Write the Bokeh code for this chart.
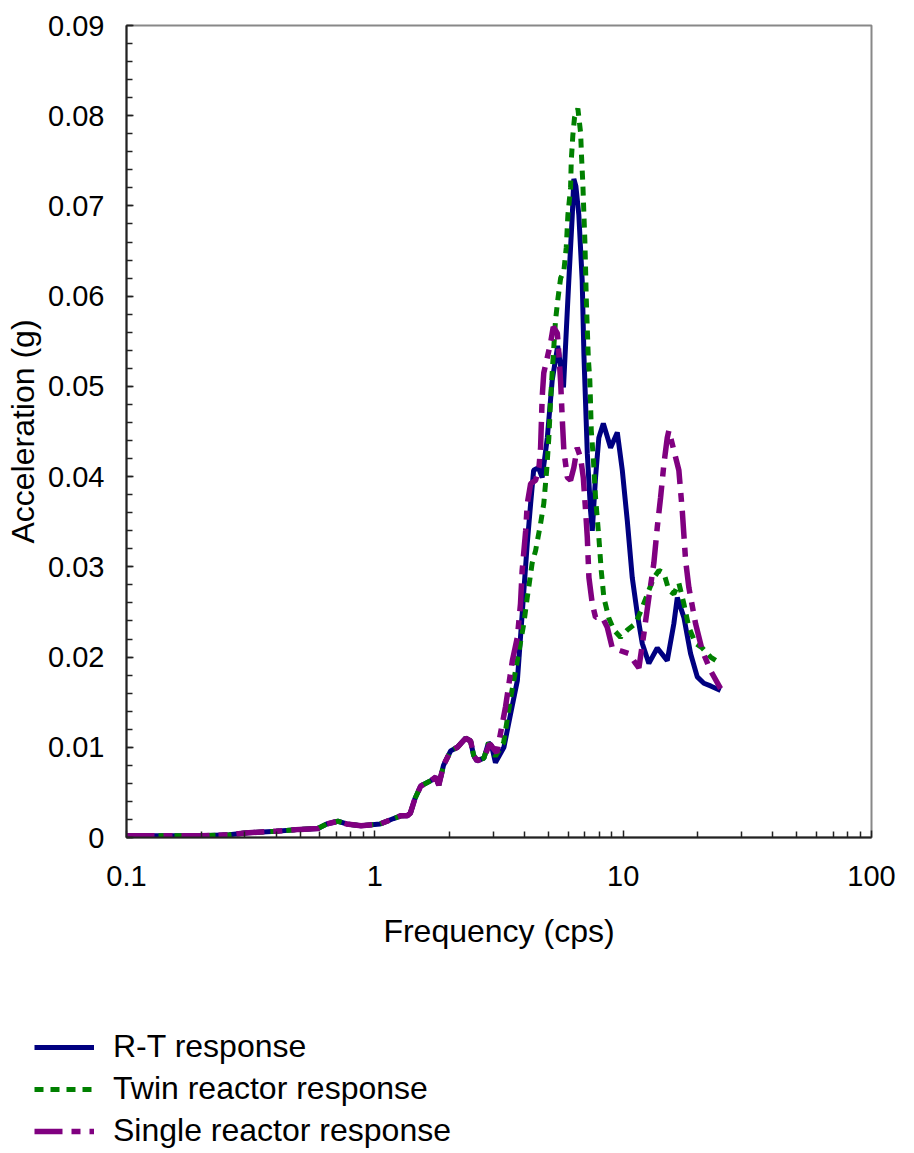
from bokeh.plotting import figure
from bokeh.layouts import column
from bokeh.models import Range1d, FixedTicker, CustomJSTickFormatter, Legend, LegendItem
from bokeh.embed import file_html
from bokeh.resources import INLINE

# shared low-frequency part (cps, g)
low_freq = [0.1, 0.15, 0.2, 0.26, 0.3, 0.4, 0.5, 0.59, 0.64, 0.71, 0.77, 0.88, 1.05, 1.19,
            1.27, 1.35, 1.39, 1.45, 1.53, 1.68, 1.76, 1.81, 1.89, 2.02, 2.15, 2.32, 2.43,
            2.5, 2.58, 2.75]
low_acc = [0.0002, 0.0002, 0.0002, 0.0003, 0.0005, 0.0007, 0.0009, 0.001, 0.0015, 0.0018,
           0.0015, 0.0013, 0.0015, 0.0021, 0.0024, 0.0024, 0.0027, 0.0043, 0.0057, 0.0063,
           0.0067, 0.0058, 0.008, 0.0096, 0.01, 0.011, 0.0107, 0.0091, 0.0085, 0.0088]

rt_freq = [2.87, 2.95, 3.06, 3.31, 3.52, 3.75, 3.86, 4.11, 4.24, 4.36, 4.56, 4.72, 4.95, 5.18,
           5.45, 5.55, 5.75, 6.04, 6.24, 6.33, 6.45, 6.63, 6.84, 6.95, 7.17, 7.39, 7.51, 7.74,
           7.98, 8.32, 8.9, 9.47, 9.92, 10.39, 10.88, 11.4, 11.94, 12.69, 13.72, 15.05, 16.0,
           16.52, 17.56, 18.68, 19.88, 21.13, 22.49, 24.68]
rt_acc = [0.0105, 0.0102, 0.0083, 0.01, 0.0137, 0.0174, 0.0222, 0.0326, 0.037, 0.0407, 0.041,
          0.0399, 0.0443, 0.0507, 0.0545, 0.053, 0.0499, 0.0617, 0.069, 0.073, 0.0722, 0.069,
          0.0617, 0.0535, 0.0426, 0.0362, 0.034, 0.0399, 0.0443, 0.0459, 0.0432, 0.0449,
          0.0407, 0.0351, 0.0288, 0.0248, 0.0215, 0.0193, 0.021, 0.0196, 0.0237, 0.0266,
          0.0244, 0.0204, 0.0178, 0.0171, 0.0168, 0.0163]

twin_freq = [2.87, 3.06, 3.3, 3.5, 3.73, 3.98, 4.11, 4.3, 4.44, 4.65, 4.79, 4.92, 5.02, 5.1,
             5.18, 5.34, 5.46, 5.6, 5.77, 5.9, 5.99, 6.14, 6.18, 6.27, 6.37, 6.57, 6.74, 6.8,
             6.88, 6.95, 7.01, 7.06, 7.1, 7.17, 7.24, 7.34, 7.39, 7.44, 7.58, 7.74, 7.98, 8.16,
             8.36, 8.76, 9.18, 9.76, 10.39, 11.22, 11.94, 12.69, 13.29, 13.93, 14.59, 15.28,
             16.0, 16.76, 17.56, 18.39, 19.57, 20.83, 22.49, 24.68]
twin_acc = [0.0105, 0.009, 0.0105, 0.015, 0.0193, 0.0237, 0.0266, 0.0304, 0.0318, 0.0348,
            0.037, 0.0407, 0.0443, 0.0484, 0.0516, 0.0573, 0.0597, 0.062, 0.0628, 0.0654,
            0.069, 0.072, 0.075, 0.0778, 0.0798, 0.0808, 0.0781, 0.0754, 0.0725, 0.069,
            0.0662, 0.0628, 0.0599, 0.0564, 0.0531, 0.0507, 0.0481, 0.0451, 0.0421, 0.0377,
            0.0333, 0.0296, 0.0266, 0.0243, 0.023, 0.0222, 0.023, 0.0237, 0.0255, 0.0274,
            0.0288, 0.0296, 0.0293, 0.0274, 0.027, 0.0282, 0.0259, 0.0233, 0.0215, 0.021,
            0.02, 0.0193]

single_freq = [2.9, 3.1, 3.36, 3.58, 3.75, 3.86, 3.92, 4.05, 4.11, 4.24, 4.44, 4.58, 4.65,
               4.72, 4.79, 5.1, 5.23, 5.43, 5.51, 5.6, 5.69, 5.77, 5.96, 6.14, 6.33, 6.53,
               6.74, 6.91, 7.06, 7.17, 7.28, 7.51, 7.74, 8.24, 8.63, 9.04, 9.76, 10.54, 11.22,
               11.57, 12.12, 12.69, 13.29, 13.72, 14.15, 14.59, 15.05, 15.28, 16.0, 16.76,
               17.3, 17.84, 18.39, 19.57, 20.83, 22.49, 24.68]
single_acc = [0.0104, 0.0094, 0.0145, 0.0196, 0.0222, 0.0259, 0.0296, 0.034, 0.037, 0.0392,
              0.0396, 0.041, 0.0432, 0.0488, 0.0515, 0.0548, 0.0566, 0.0559, 0.0536, 0.0505,
              0.0462, 0.0429, 0.0399, 0.0396, 0.041, 0.0432, 0.0421, 0.0399, 0.0362, 0.0333,
              0.0288, 0.0259, 0.0244, 0.0244, 0.0233, 0.021, 0.0207, 0.0204, 0.0193, 0.0188,
              0.0226, 0.0266, 0.0304, 0.0344, 0.0377, 0.0414, 0.0443, 0.0451, 0.0429, 0.0407,
              0.0362, 0.0307, 0.0277, 0.0237, 0.0207, 0.0185, 0.0165]

x_ticks = [0.1, 1, 10, 100]
y_ticks = [0, 0.01, 0.02, 0.03, 0.04, 0.05, 0.06, 0.07, 0.08, 0.09]
series_names = ["R-T response", "Twin reactor response", "Single reactor response"]

FONT = "Liberation Sans"
COLORS = ["#000080", "#008000", "#800080"]
WIDTHS = [5, 5, 5.5]
DASHES = ["solid", "9 7", "28 9 9 9"]
series_x = [low_freq + rt_freq, low_freq + twin_freq, low_freq + single_freq]
series_y = [low_acc + rt_acc, low_acc + twin_acc, low_acc + single_acc]

p = figure(width=906, height=960, x_axis_type="log",
           x_range=Range1d(0.1, 100), y_range=Range1d(0, 0.09),
           output_backend="svg", toolbar_location=None,
           min_border_left=126, min_border_right=35, min_border_top=25,
           min_border_bottom=123)
p.background_fill_color = "white"
p.border_fill_color = "white"
p.outline_line_color = "#888888"
p.outline_line_width = 2
p.grid.visible = False

for xs, ys, c, w, d in zip(series_x, series_y, COLORS, WIDTHS, DASHES):
    p.line(xs, ys, line_color=c, line_width=w, line_dash=d)

minor_x = [m * d for d in (0.1, 1, 10) for m in range(2, 10)]
p.xaxis.ticker = FixedTicker(ticks=x_ticks, minor_ticks=minor_x)
p.xaxis.formatter = CustomJSTickFormatter(code="return tick >= 1 ? tick.toFixed(0) : tick.toFixed(1);")
minor_y = [i * 0.002 for i in range(46)]
p.yaxis.ticker = FixedTicker(ticks=y_ticks, minor_ticks=minor_y)
p.yaxis.formatter = CustomJSTickFormatter(code="return tick == 0 ? '0' : tick.toFixed(2);")

for ax in (p.xaxis[0], p.yaxis[0]):
    ax.axis_line_color = "#222222"
    ax.axis_line_width = 2
    ax.major_tick_in = 7
    ax.major_tick_out = 0
    ax.minor_tick_in = 6
    ax.minor_tick_out = 0
    ax.major_tick_line_color = "#222222"
    ax.minor_tick_line_color = "#222222"
    ax.major_tick_line_width = 1.5
    ax.minor_tick_line_width = 1.5
    ax.major_label_text_font = FONT
    ax.major_label_text_font_size = "29px"
    ax.major_label_text_color = "black"
    ax.axis_label_text_font = FONT
    ax.axis_label_text_font_size = "32px"
    ax.axis_label_text_font_style = "normal"
    ax.axis_label_text_color = "black"

p.xaxis.axis_label = "Frequency (cps)"
p.yaxis.axis_label = "Acceleration (g)"
p.xaxis.major_label_standoff = 28
p.xaxis.axis_label_standoff = 24
p.yaxis.major_label_standoff = 22
p.yaxis.axis_label_standoff = 4

# legend panel below the chart (same series, drawn outside its visible range)
q = figure(width=906, height=190, x_range=Range1d(0.1, 100), y_range=Range1d(1, 2),
           x_axis_type="log", output_backend="svg", toolbar_location=None,
           x_axis_location=None, y_axis_location=None,
           min_border_left=0, min_border_right=0, min_border_top=0, min_border_bottom=0)
try:
    q.frame_align = False
    leg_x = 34
except Exception:
    leg_x = 34 - 126
q.outline_line_color = None
q.grid.visible = False
q.background_fill_color = "white"
q.border_fill_color = "white"
leg_renderers = []
for xs, ys, c, w, d in zip(series_x, series_y, COLORS, WIDTHS, DASHES):
    leg_renderers.append(q.line(xs, ys, line_color=c, line_width=w, line_dash=d))

legend = Legend(items=[LegendItem(label=n, renderers=[r]) for n, r in zip(series_names, leg_renderers)],
                location=(leg_x, 1), orientation="vertical",
                border_line_color=None, background_fill_alpha=0,
                padding=0, margin=0, spacing=5,
                glyph_width=60, glyph_height=36, label_height=36,
                label_standoff=19, label_text_font=FONT,
                label_text_font_size="32px", label_text_color="black")
q.add_layout(legend)

layout = column(p, q, spacing=0)
open("out.html", "w").write(file_html(layout, INLINE))
